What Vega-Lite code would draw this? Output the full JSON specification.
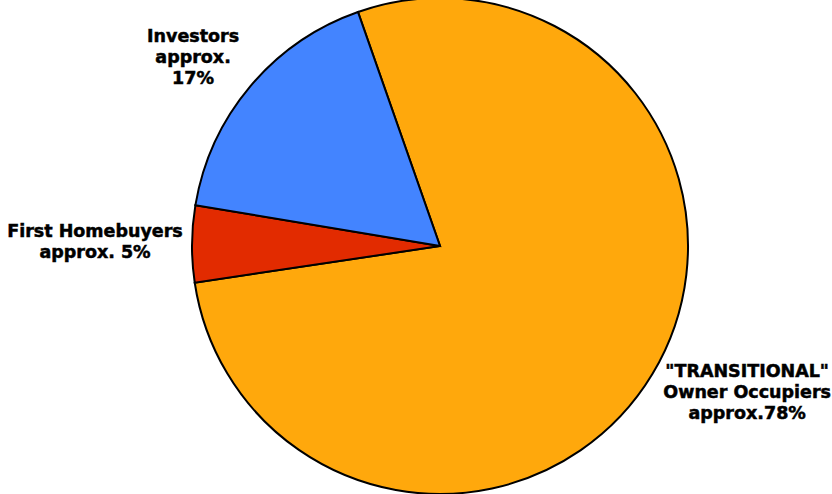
{
  "$schema": "https://vega.github.io/schema/vega-lite/v6.json",
  "width": 784,
  "height": 492,
  "autosize": {"type": "none"},
  "padding": {"left": 48, "right": 0, "top": 0, "bottom": 2},
  "background": "white",
  "view": {"stroke": null},
  "data": {
    "values": [
      {"segment": "Transitional", "order": 1, "share": 78, "label": "\"TRANSITIONAL\"\nOwner Occupiers\napprox.78%"},
      {"segment": "First Homebuyers", "order": 2, "share": 5, "label": "First Homebuyers\napprox. 5%"},
      {"segment": "Investors", "order": 3, "share": 17, "label": "Investors\napprox.\n17%"}
    ]
  },
  "encoding": {
    "theta": {"field": "share", "type": "quantitative", "stack": true, "scale": {"range": [-0.337, 5.946]}},
    "order": {"field": "order", "type": "quantitative"}
  },
  "layer": [
    {
      "mark": {"type": "arc", "outerRadius": 248, "stroke": "black", "strokeWidth": 2},
      "encoding": {
        "color": {
          "field": "segment",
          "type": "nominal",
          "scale": {"domain": ["Transitional", "First Homebuyers", "Investors"], "range": ["#FFA80C", "#E22B00", "#4384FF"]},
          "legend": null
        }
      }
    },
    {
      "mark": {"type": "text", "radius": 340, "dx": 16, "dy": -50, "lineBreak": "\n", "lineHeight": 21, "font": "DejaVu Sans", "fontWeight": "bold", "fontSize": 17.5, "align": "center", "baseline": "middle", "color": "black", "stroke": "black", "strokeWidth": 0.5},
      "encoding": {"text": {"condition": {"test": "datum.segment === 'Transitional'", "field": "label"}, "value": ""}}
    },
    {
      "mark": {"type": "text", "radius": 345, "dy": -11, "lineBreak": "\n", "lineHeight": 21, "font": "DejaVu Sans", "fontWeight": "bold", "fontSize": 17.5, "align": "center", "baseline": "middle", "color": "black", "stroke": "black", "strokeWidth": 0.5},
      "encoding": {"text": {"condition": {"test": "datum.segment === 'First Homebuyers'", "field": "label"}, "value": ""}}
    },
    {
      "mark": {"type": "text", "radius": 311, "dx": -9, "dy": -9, "lineBreak": "\n", "lineHeight": 21, "font": "DejaVu Sans", "fontWeight": "bold", "fontSize": 17.5, "align": "center", "baseline": "middle", "color": "black", "stroke": "black", "strokeWidth": 0.5},
      "encoding": {"text": {"condition": {"test": "datum.segment === 'Investors'", "field": "label"}, "value": ""}}
    }
  ]
}
